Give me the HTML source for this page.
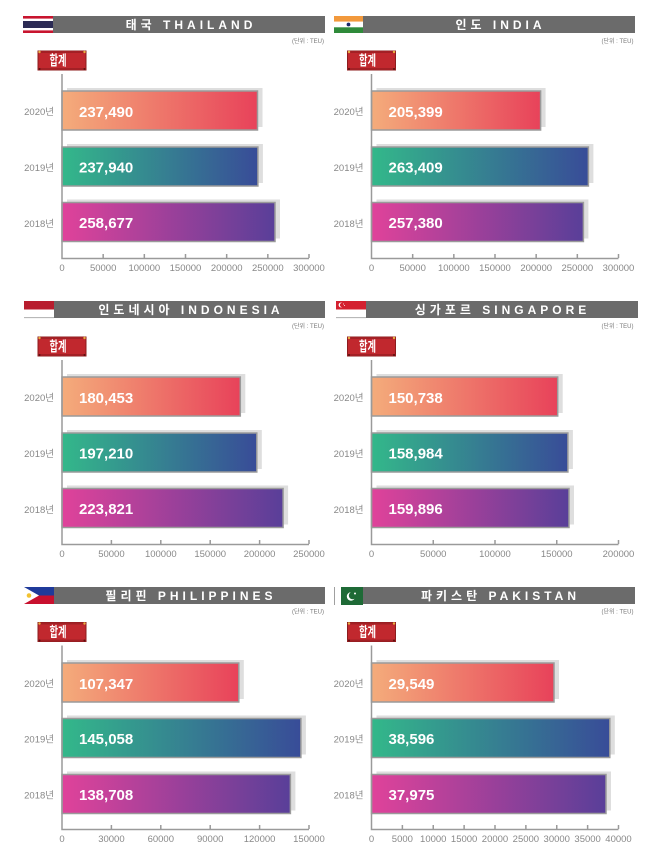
<!DOCTYPE html>
<html>
<head>
<meta charset="utf-8">
<style>
html,body{margin:0;padding:0;background:#fff;}
svg{display:block;}
.t{font-family:"Liberation Sans","Noto Sans CJK KR",sans-serif;font-weight:bold;font-size:12px;fill:#fff;letter-spacing:4px;}
.u{font-family:"Liberation Sans","Noto Sans CJK KR",sans-serif;font-size:6px;fill:#777;}
.b{font-family:"Liberation Sans","Noto Sans CJK KR",sans-serif;font-weight:bold;font-size:14px;fill:#fff;}
.y{font-family:"Liberation Sans","Noto Sans CJK KR",sans-serif;font-size:9.5px;fill:#888;}
.k{font-family:"Liberation Sans",sans-serif;font-size:9.5px;fill:#888;}
.v{font-family:"Liberation Sans",sans-serif;font-weight:bold;font-size:15px;fill:#fff;}
.ax{stroke:#9a9a9a;stroke-width:1.5;fill:none;}
.sh{fill:#dedede;}
.bar{stroke:#9a9a9a;stroke-width:1.5;}
</style>
</head>
<body>
<svg width="650" height="857" viewBox="0 0 650 857" xmlns="http://www.w3.org/2000/svg">
<defs>
<linearGradient id="g20" x1="0" y1="0" x2="1" y2="0"><stop offset="0" stop-color="#f4ac7b"/><stop offset="1" stop-color="#e8425a"/></linearGradient>
<linearGradient id="g19" x1="0" y1="0" x2="1" y2="0"><stop offset="0" stop-color="#33b88a"/><stop offset="1" stop-color="#384c98"/></linearGradient>
<linearGradient id="g18" x1="0" y1="0" x2="1" y2="0"><stop offset="0" stop-color="#e0429a"/><stop offset="1" stop-color="#593f99"/></linearGradient>
<g id="badge">
<rect x="38" y="51" width="48" height="19" fill="#c1282e" stroke="#8c1c1e" stroke-width="1"/>
<rect x="38" y="51" width="48" height="2" fill="#a32025"/>
<rect x="38" y="68" width="48" height="2" fill="#a32025"/>
<circle cx="39.5" cy="52" r="1.2" fill="#e8b040"/>
<circle cx="84.5" cy="52" r="1.2" fill="#e8b040"/>
<circle cx="39.5" cy="69" r="1" fill="#5a1010"/>
<circle cx="84.5" cy="69" r="1" fill="#5a1010"/>
<text class="b" x="58" y="65.5" text-anchor="middle" textLength="17" lengthAdjust="spacingAndGlyphs">합계</text>
</g>
</defs>

<!-- FLAGS -->
<rect x="23" y="16" width="30" height="17" fill="#fff"/>
<rect x="23" y="16" width="30" height="2.6" fill="#c8142e"/>
<rect x="23" y="21" width="30" height="7" fill="#2c2b55"/>
<rect x="23" y="30.4" width="30" height="2.6" fill="#c8142e"/>

<rect x="334" y="16" width="29" height="5.7" fill="#f2993c"/>
<rect x="334" y="21.7" width="29" height="5.6" fill="#fff"/>
<rect x="334" y="27.3" width="29" height="5.7" fill="#2f8a3a"/>
<circle cx="348.5" cy="24.5" r="1.9" fill="#1c2a6b"/>

<rect x="24" y="301" width="30" height="8.5" fill="#b81d2e"/>
<rect x="24" y="309.5" width="30" height="8" fill="#fff"/>
<rect x="24" y="317.3" width="30" height="0.8" fill="#999"/>

<rect x="336" y="301" width="30" height="8.5" fill="#d4202f"/>
<rect x="336" y="309.5" width="30" height="8" fill="#fff"/>
<rect x="336" y="317.3" width="30" height="0.8" fill="#999"/>
<circle cx="341" cy="305" r="2.4" fill="#fff"/>
<circle cx="342" cy="305" r="2.1" fill="#d4202f"/>
<circle cx="343.5" cy="304" r="0.5" fill="#fff"/>
<circle cx="344.5" cy="305.5" r="0.5" fill="#fff"/>

<rect x="24" y="587" width="30" height="8.5" fill="#1f3a9a"/>
<rect x="24" y="595.5" width="30" height="8.5" fill="#c8102e"/>
<polygon points="24,587 24,604 39,595.5" fill="#fff"/>
<circle cx="29" cy="595.5" r="2.3" fill="#f2c230"/>

<rect x="334" y="587" width="7" height="18" fill="#fff"/>
<rect x="334" y="587" width="0.8" height="18" fill="#888"/>
<rect x="341" y="587" width="22" height="18" fill="#1e6a36"/>
<circle cx="351" cy="596.5" r="4.2" fill="#fff"/>
<circle cx="352.6" cy="595.5" r="3.8" fill="#1e6a36"/>
<circle cx="355" cy="593.5" r="1" fill="#fff"/>

<!-- ===== THAILAND ===== -->
<g transform="translate(0,0)">
<rect x="53" y="16" width="272" height="17" fill="#6b6b6b"/>
<text class="t" x="191" y="29" text-anchor="middle">태국 THAILAND</text>
<text class="u" x="324" y="43" text-anchor="end">(단위 : TEU)</text>
<use href="#badge"/>
<rect class="sh" x="67" y="88" width="195.5" height="39"/>
<rect class="sh" x="67" y="144" width="195.9" height="39"/>
<rect class="sh" x="67" y="199.5" width="213" height="39"/>
<rect class="bar" x="62" y="91" width="195.5" height="39" fill="url(#g20)"/>
<rect class="bar" x="62" y="147" width="195.9" height="39" fill="url(#g19)"/>
<rect class="bar" x="62" y="202.5" width="213" height="39" fill="url(#g18)"/>
<text class="v" x="79" y="117">237,490</text>
<text class="v" x="79" y="172.5">237,940</text>
<text class="v" x="79" y="228">258,677</text>
<text class="y" x="54" y="115" text-anchor="end">2020년</text>
<text class="y" x="54" y="171" text-anchor="end">2019년</text>
<text class="y" x="54" y="227" text-anchor="end">2018년</text>
<path class="ax" d="M62 74V258.5H309M103.17 254V258M144.33 254V258M185.5 254V258M226.67 254V258M267.83 254V258M309 254V258"/>
<text class="k" x="62" y="271" text-anchor="middle">0</text>
<text class="k" x="103.17" y="271" text-anchor="middle">50000</text>
<text class="k" x="144.33" y="271" text-anchor="middle">100000</text>
<text class="k" x="185.5" y="271" text-anchor="middle">150000</text>
<text class="k" x="226.67" y="271" text-anchor="middle">200000</text>
<text class="k" x="267.83" y="271" text-anchor="middle">250000</text>
<text class="k" x="309" y="271" text-anchor="middle">300000</text>
</g>

<!-- ===== INDIA ===== -->
<g transform="translate(309.5,0)">
<rect x="53.5" y="16" width="272" height="17" fill="#6b6b6b"/>
<text class="t" x="191" y="29" text-anchor="middle">인도 INDIA</text>
<text class="u" x="324" y="43" text-anchor="end">(단위 : TEU)</text>
<use href="#badge"/>
<rect class="sh" x="67" y="88" width="169.1" height="39"/>
<rect class="sh" x="67" y="144" width="216.9" height="39"/>
<rect class="sh" x="67" y="199.5" width="211.9" height="39"/>
<rect class="bar" x="62" y="91" width="169.1" height="39" fill="url(#g20)"/>
<rect class="bar" x="62" y="147" width="216.9" height="39" fill="url(#g19)"/>
<rect class="bar" x="62" y="202.5" width="211.9" height="39" fill="url(#g18)"/>
<text class="v" x="79" y="117">205,399</text>
<text class="v" x="79" y="172.5">263,409</text>
<text class="v" x="79" y="228">257,380</text>
<text class="y" x="54" y="115" text-anchor="end">2020년</text>
<text class="y" x="54" y="171" text-anchor="end">2019년</text>
<text class="y" x="54" y="227" text-anchor="end">2018년</text>
<path class="ax" d="M62 74V258.5H309M103.17 254V258M144.33 254V258M185.5 254V258M226.67 254V258M267.83 254V258M309 254V258"/>
<text class="k" x="62" y="271" text-anchor="middle">0</text>
<text class="k" x="103.17" y="271" text-anchor="middle">50000</text>
<text class="k" x="144.33" y="271" text-anchor="middle">100000</text>
<text class="k" x="185.5" y="271" text-anchor="middle">150000</text>
<text class="k" x="226.67" y="271" text-anchor="middle">200000</text>
<text class="k" x="267.83" y="271" text-anchor="middle">250000</text>
<text class="k" x="309" y="271" text-anchor="middle">300000</text>
</g>

<!-- ===== INDONESIA ===== -->
<g transform="translate(0,286)">
<rect x="54" y="15" width="271" height="17" fill="#6b6b6b"/>
<text class="t" x="191" y="28" text-anchor="middle">인도네시아 INDONESIA</text>
<text class="u" x="324" y="42" text-anchor="end">(단위 : TEU)</text>
<use href="#badge"/>
<rect class="sh" x="67" y="88" width="178.3" height="39"/>
<rect class="sh" x="67" y="144" width="194.8" height="39"/>
<rect class="sh" x="67" y="199.5" width="221.1" height="39"/>
<rect class="bar" x="62" y="91" width="178.3" height="39" fill="url(#g20)"/>
<rect class="bar" x="62" y="147" width="194.8" height="39" fill="url(#g19)"/>
<rect class="bar" x="62" y="202.5" width="221.1" height="39" fill="url(#g18)"/>
<text class="v" x="79" y="117">180,453</text>
<text class="v" x="79" y="172.5">197,210</text>
<text class="v" x="79" y="228">223,821</text>
<text class="y" x="54" y="115" text-anchor="end">2020년</text>
<text class="y" x="54" y="171" text-anchor="end">2019년</text>
<text class="y" x="54" y="227" text-anchor="end">2018년</text>
<path class="ax" d="M62 74V258.5H309M111.4 254V258M160.8 254V258M210.2 254V258M259.6 254V258M309 254V258"/>
<text class="k" x="62" y="271" text-anchor="middle">0</text>
<text class="k" x="111.4" y="271" text-anchor="middle">50000</text>
<text class="k" x="160.8" y="271" text-anchor="middle">100000</text>
<text class="k" x="210.2" y="271" text-anchor="middle">150000</text>
<text class="k" x="259.6" y="271" text-anchor="middle">200000</text>
<text class="k" x="309" y="271" text-anchor="middle">250000</text>
</g>

<!-- ===== SINGAPORE ===== -->
<g transform="translate(309.5,286)">
<rect x="56.5" y="15" width="272" height="17" fill="#6b6b6b"/>
<text class="t" x="193" y="28" text-anchor="middle">싱가포르 SINGAPORE</text>
<text class="u" x="324" y="42" text-anchor="end">(단위 : TEU)</text>
<use href="#badge"/>
<rect class="sh" x="67" y="88" width="186.2" height="39"/>
<rect class="sh" x="67" y="144" width="196.4" height="39"/>
<rect class="sh" x="67" y="199.5" width="197.5" height="39"/>
<rect class="bar" x="62" y="91" width="186.2" height="39" fill="url(#g20)"/>
<rect class="bar" x="62" y="147" width="196.4" height="39" fill="url(#g19)"/>
<rect class="bar" x="62" y="202.5" width="197.5" height="39" fill="url(#g18)"/>
<text class="v" x="79" y="117">150,738</text>
<text class="v" x="79" y="172.5">158,984</text>
<text class="v" x="79" y="228">159,896</text>
<text class="y" x="54" y="115" text-anchor="end">2020년</text>
<text class="y" x="54" y="171" text-anchor="end">2019년</text>
<text class="y" x="54" y="227" text-anchor="end">2018년</text>
<path class="ax" d="M62 74V258.5H309M123.75 254V258M185.5 254V258M247.25 254V258M309 254V258"/>
<text class="k" x="62" y="271" text-anchor="middle">0</text>
<text class="k" x="123.75" y="271" text-anchor="middle">50000</text>
<text class="k" x="185.5" y="271" text-anchor="middle">100000</text>
<text class="k" x="247.25" y="271" text-anchor="middle">150000</text>
<text class="k" x="309" y="271" text-anchor="middle">200000</text>
</g>

<!-- ===== PHILIPPINES ===== -->
<g transform="translate(0,571.5)">
<rect x="54" y="15.5" width="271" height="17" fill="#6b6b6b"/>
<text class="t" x="191" y="28.5" text-anchor="middle">필리핀 PHILIPPINES</text>
<text class="u" x="324" y="42" text-anchor="end">(단위 : TEU)</text>
<use href="#badge"/>
<rect class="sh" x="67" y="88.5" width="176.8" height="39"/>
<rect class="sh" x="67" y="144" width="238.9" height="39"/>
<rect class="sh" x="67" y="200" width="228.4" height="39"/>
<rect class="bar" x="62" y="91.5" width="176.8" height="39" fill="url(#g20)"/>
<rect class="bar" x="62" y="147" width="238.9" height="39" fill="url(#g19)"/>
<rect class="bar" x="62" y="203" width="228.4" height="39" fill="url(#g18)"/>
<text class="v" x="79" y="117.5">107,347</text>
<text class="v" x="79" y="172.5">145,058</text>
<text class="v" x="79" y="228.5">138,708</text>
<text class="y" x="54" y="115.5" text-anchor="end">2020년</text>
<text class="y" x="54" y="171" text-anchor="end">2019년</text>
<text class="y" x="54" y="227" text-anchor="end">2018년</text>
<path class="ax" d="M62 74V258H309M111.4 253.5V257.5M160.8 253.5V257.5M210.2 253.5V257.5M259.6 253.5V257.5M309 253.5V257.5"/>
<text class="k" x="62" y="270.5" text-anchor="middle">0</text>
<text class="k" x="111.4" y="270.5" text-anchor="middle">30000</text>
<text class="k" x="160.8" y="270.5" text-anchor="middle">60000</text>
<text class="k" x="210.2" y="270.5" text-anchor="middle">90000</text>
<text class="k" x="259.6" y="270.5" text-anchor="middle">120000</text>
<text class="k" x="309" y="270.5" text-anchor="middle">150000</text>
</g>

<!-- ===== PAKISTAN ===== -->
<g transform="translate(309.5,571.5)">
<rect x="53.5" y="15.5" width="272" height="17" fill="#6b6b6b"/>
<text class="t" x="191" y="28.5" text-anchor="middle">파키스탄 PAKISTAN</text>
<text class="u" x="324" y="42" text-anchor="end">(단위 : TEU)</text>
<use href="#badge"/>
<rect class="sh" x="67" y="88.5" width="182.5" height="39"/>
<rect class="sh" x="67" y="144" width="238.3" height="39"/>
<rect class="sh" x="67" y="200" width="234.5" height="39"/>
<rect class="bar" x="62" y="91.5" width="182.5" height="39" fill="url(#g20)"/>
<rect class="bar" x="62" y="147" width="238.3" height="39" fill="url(#g19)"/>
<rect class="bar" x="62" y="203" width="234.5" height="39" fill="url(#g18)"/>
<text class="v" x="79" y="117.5">29,549</text>
<text class="v" x="79" y="172.5">38,596</text>
<text class="v" x="79" y="228.5">37,975</text>
<text class="y" x="54" y="115.5" text-anchor="end">2020년</text>
<text class="y" x="54" y="171" text-anchor="end">2019년</text>
<text class="y" x="54" y="227" text-anchor="end">2018년</text>
<path class="ax" d="M62 74V258H309M92.875 253.5V257.5M123.75 253.5V257.5M154.625 253.5V257.5M185.5 253.5V257.5M216.375 253.5V257.5M247.25 253.5V257.5M278.125 253.5V257.5M309 253.5V257.5"/>
<text class="k" x="62" y="270.5" text-anchor="middle">0</text>
<text class="k" x="92.875" y="270.5" text-anchor="middle">5000</text>
<text class="k" x="123.75" y="270.5" text-anchor="middle">10000</text>
<text class="k" x="154.625" y="270.5" text-anchor="middle">15000</text>
<text class="k" x="185.5" y="270.5" text-anchor="middle">20000</text>
<text class="k" x="216.375" y="270.5" text-anchor="middle">25000</text>
<text class="k" x="247.25" y="270.5" text-anchor="middle">30000</text>
<text class="k" x="278.125" y="270.5" text-anchor="middle">35000</text>
<text class="k" x="309" y="270.5" text-anchor="middle">40000</text>
</g>
</svg>
</body>
</html>
